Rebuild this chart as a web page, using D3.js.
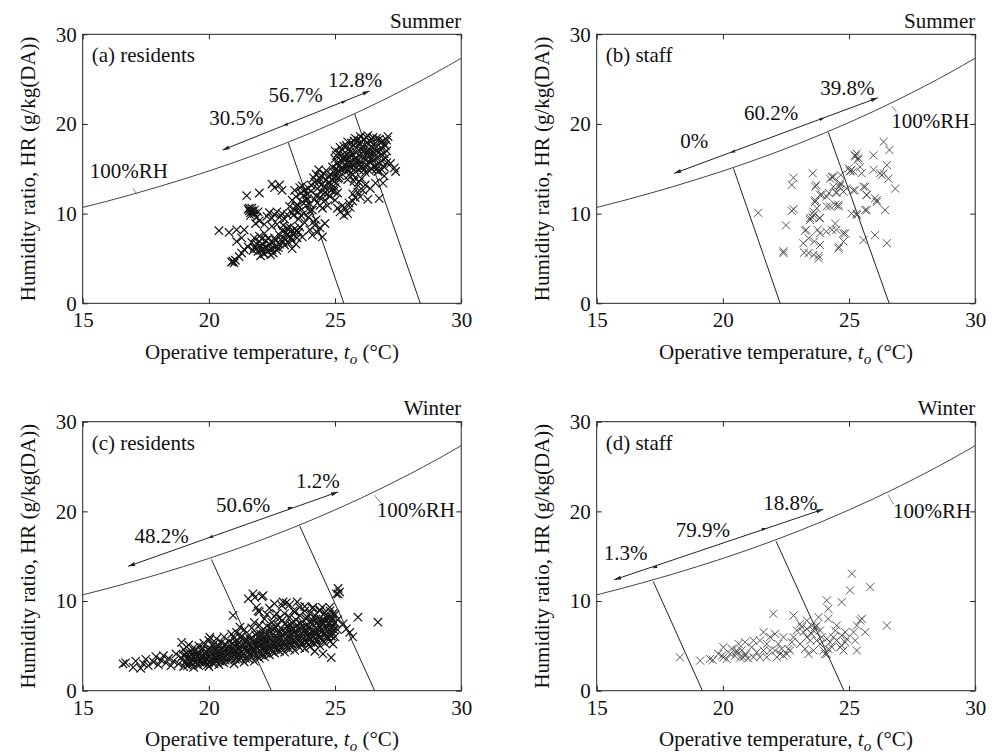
<!DOCTYPE html>
<html><head><meta charset="utf-8">
<script src="https://cdn.jsdelivr.net/npm/d3@7"></script>
<style>
body{margin:0;background:#fff;}
svg, svg text{font-family:"Times New Roman","Liberation Serif",Times,"DejaVu Serif",serif !important;}
svg text{fill:#111;}
</style></head>
<body><svg id="c" width="993" height="753"></svg>
<script>
// ---------- data ----------
const xTicks = [15, 20, 25, 30];
const yTicks = [0, 10, 20, 30];
const satTemp = [15,16,17,18,19,20,21,22,23,24,25,26,27,28,29,30];
const satHR   = [10.69,11.41,12.18,12.99,13.85,14.75,15.71,16.73,17.81,18.95,20.16,21.44,22.79,24.22,25.73,27.33];

const panelLabels = ["(a) residents", "(b) staff", "(c) residents", "(d) staff"];
const seasons = ["Summer", "Summer", "Winter", "Winter"];

const pctA = ["30.5%", "56.7%", "12.8%"];
const pctB = ["0%", "60.2%", "39.8%"];
const pctC = ["48.2%", "50.6%", "1.2%"];
const pctD = ["1.3%", "79.9%", "18.8%"];

// boundary lines [top point on 100%RH, bottom point at HR=0]
const boundA = [[[23.15,17.9],[25.35,0]], [[25.78,21.1],[28.38,0]]];
const boundB = [[[20.42,15.05],[22.27,0]], [[24.18,19.06],[26.59,0]]];
const boundC = [[[20.1,14.65],[22.48,0]], [[23.6,18.37],[26.57,0]]];
const boundD = [[[17.24,12.19],[19.19,0]], [[22.11,16.66],[24.8,0]]];

// arrow line: left end, division 1, division 2, right end
const arrowA = [[20.54,17.09],[22.94,19.8],[25.45,22.59],[26.37,23.67]];
const arrowB = [[18.07,14.49],[20.29,16.79],[24.03,20.69],[26.14,22.92]];
const arrowC = [[16.8,13.87],[19.97,17.03],[23.33,20.5],[25.12,22.17]];
const arrowD = [[15.69,12.37],[17.2,13.67],[21.74,18.15],[23.98,20.24]];

// (a) residents, summer
const residentsSummer = [
[20.4,8.1],[20.8,7.9],[21.1,8.2],[21.4,8.2],[21.1,6.9],[21.3,7.3],[21.5,12.0],[22.0,12.3],[20.9,4.6],[21.0,4.5],[20.95,4.7],[21.05,4.8],[21.2,5.2],[21.3,5.6],[21.4,6.0],[21.55,6.3],
[21.55,10.5],[21.6,10.3],[21.7,10.6],[21.75,10.2],[21.8,10.0],[21.65,9.8],[21.9,9.6],[21.95,10.2],[21.85,8.9],[22.0,9.2],
[21.7,6.8],[21.8,6.2],[21.9,6.6],[21.95,5.8],[22.0,6.9],[22.05,5.3],[22.1,6.0],[22.15,6.5],[22.2,5.5],[22.25,7.0],[22.3,6.2],[22.35,5.8],[22.4,6.6],[22.45,5.4],[22.5,6.0],[22.55,6.8],[22.6,7.3],[22.65,6.3],[22.7,5.9],[22.8,6.6],[22.0,7.5],[22.2,7.8],[21.8,7.3],
[22.3,9.7],[22.4,10.1],[22.5,9.5],[22.6,9.9],[22.7,10.2],[22.8,9.6],[22.9,10.0],[23.0,9.4],[23.1,9.9],[22.2,8.8],[22.5,8.6],[22.7,8.8],
[22.5,13.3],[22.6,12.9],[22.8,13.2],[22.9,12.6],
[22.8,7.6],[22.9,8.1],[23.0,7.2],[23.05,7.9],[23.1,8.4],[23.15,6.8],[23.2,7.5],[23.25,8.0],[23.3,7.0],[23.35,7.7],[23.4,8.3],[23.45,6.6],[23.5,7.3],[23.55,7.9],[23.6,8.5],[23.0,6.5],[23.3,6.1],[23.7,7.4],
[23.2,10.8],[23.3,11.5],[23.35,9.8],[23.4,10.4],[23.45,11.9],[23.5,11.0],[23.55,9.4],[23.6,10.7],[23.65,12.3],[23.7,11.3],[23.75,10.0],[23.8,12.6],[23.85,10.9],[23.9,11.7],[23.95,9.6],[24.0,11.1],[23.4,12.6],[23.6,12.9],[23.7,13.1],[23.9,12.2],[24.05,12.5],[24.1,10.4],[24.15,9.1],[23.8,9.0],
[24.0,8.2],[24.1,7.6],[24.2,8.7],[24.3,7.9],[24.4,8.4],[24.5,7.4],[24.6,8.9],[24.25,9.3],
[24.2,13.5],[24.25,14.4],[24.3,12.8],[24.35,14.9],[24.4,13.9],[24.45,12.4],[24.5,13.3],[24.55,14.5],[24.6,12.9],[24.65,13.8],[24.7,12.2],[24.75,14.2],[24.8,13.1],[24.85,12.6],[24.9,13.7],[24.95,14.6],[25.0,12.9],[25.05,13.4],[25.1,12.3],[25.15,14.0],[24.4,11.8],[24.6,11.5],[24.8,11.9],[24.3,11.2],[24.5,10.6],[24.7,10.9],[25.0,11.5],
[25.1,10.6],[25.2,10.2],[25.3,10.9],[25.35,9.8],[25.4,10.5],[25.5,10.0],[25.55,11.2],[25.6,10.7],[25.7,11.4],
[25.7,12.2],[25.8,11.8],[25.85,12.9],[25.9,12.4],[25.95,13.5],[26.0,11.9],[26.1,12.6],[26.2,13.2],[26.3,11.6],[26.4,12.8],[25.75,13.6],[26.05,13.9],
[24.9,15.2],[25.0,16.1],[25.05,14.6],[25.1,15.6],[25.15,16.8],[25.2,14.2],[25.25,15.9],[25.3,17.1],[25.35,15.0],[25.4,16.4],[25.45,17.6],[25.5,14.8],[25.55,15.7],[25.6,16.9],[25.65,17.9],[25.7,14.4],[25.75,15.3],[25.8,16.2],[25.85,17.3],[25.9,18.2],[25.95,14.9],[26.0,15.8],[26.05,16.7],[26.1,17.5],[26.15,18.3],[26.2,14.6],[26.25,15.4],[26.3,16.3],[26.35,17.2],[26.4,18.0],[26.45,15.0],[26.5,15.9],[26.55,16.8],[26.6,17.6],[26.65,18.4],[26.7,14.7],[26.75,15.6],[26.8,16.5],[26.85,17.3],[26.9,18.1],[26.95,15.2],[27.0,16.2],[27.05,17.0],[27.1,18.6],[26.0,18.6],[25.8,18.4],[26.3,18.7],[26.5,18.5],[25.5,18.0],[25.3,16.2],[25.6,15.2],[25.9,16.0],[26.2,16.0],[26.4,16.6],[26.1,15.1],[25.7,16.6],[25.4,15.5],[26.6,15.3],[26.8,17.9],[27.0,17.6],[25.2,17.4],[25.0,17.0],[24.95,14.0],[25.1,13.9],[25.5,13.8],[25.8,14.0],
[26.9,13.4],[27.35,15.1],[27.4,14.7],[26.75,11.7],[26.6,13.4],[27.2,15.6],[26.95,14.2],
[25.05,15.0],[25.05,16.5],[25.15,15.3],[25.15,14.7],[25.25,16.5],[25.25,14.9],[25.35,17.5],[25.35,16.0],[25.45,15.1],[25.45,16.2],[25.55,17.2],[25.55,16.3],[25.55,14.3],[25.65,15.6],[25.65,16.4],[25.75,17.6],[25.75,14.9],[25.75,18.1],[25.85,15.7],[25.85,16.8],[25.95,17.8],[25.95,15.4],[25.95,16.5],[26.05,17.1],[26.05,15.3],[26.05,18.0],[26.15,16.2],[26.15,14.9],[26.15,17.0],[26.25,17.9],[26.25,16.8],[26.25,18.5],[26.35,15.8],[26.35,14.8],[26.35,16.9],[26.45,17.5],[26.45,18.3],[26.45,16.2],[26.55,15.3],[26.55,17.2],[26.65,16.2],[26.65,17.0],[26.65,15.0],[26.75,18.3],[26.75,16.9],[26.85,15.9],[26.85,14.9],[26.95,16.7],[26.95,17.7],[27.05,15.7],[27.05,18.2],
[24.05,13.2],[24.15,14.0],[24.25,12.0],[24.35,13.5],[24.45,14.2],[24.55,13.0],[24.65,14.8],[24.75,13.5],[24.85,14.3],[24.95,12.5],[23.95,12.8],[23.85,11.4],[23.75,12.0],[23.55,10.2],[23.45,10.8],[23.65,9.8],[23.3,10.1],[24.0,10.3],[24.2,11.6],[24.4,10.9],[24.6,12.3],
[22.05,6.4],[22.15,5.6],[22.25,6.3],[22.35,7.2],[22.45,6.1],[22.55,5.6],[22.65,7.0],[22.75,6.2],[22.85,7.1],[22.95,6.8],[23.1,7.7],[23.25,7.3],[23.4,7.9],[23.5,8.1],[23.2,8.5],[22.95,8.7],[21.9,6.1],[21.75,5.9],[22.1,7.2],
[21.6,10.6],[21.7,10.3],[21.65,10.1],[21.8,10.4]
];

// (b) staff, summer
const staffSummer = [
[21.4,10.1],[22.5,8.7],[22.4,5.8],[22.4,5.6],[22.73,13.2],[22.8,14.0],[22.73,10.3],[22.8,10.5],[23.19,6.7],[23.22,5.65],[23.3,8.2],[23.4,7.25],[23.46,9.5],[23.56,14.5],[23.59,10.2],[23.6,9.85],[23.66,11.5],[23.66,13.0],[23.7,13.2],[23.62,6.9],[23.59,5.4],[23.8,5.0],[23.75,8.2],[23.83,9.5],[23.85,7.8],[23.92,12.1],[24.12,11.9],[24.25,10.8],[24.32,14.1],[24.38,13.0],[24.32,8.2],[24.45,8.9],[24.5,8.2],[24.45,11.0],[24.58,10.8],[24.5,12.3],[24.62,13.0],[24.65,13.4],[24.58,6.1],[24.78,6.9],[24.85,7.8],[24.67,14.3],[24.78,12.45],[24.91,12.8],[24.98,15.05],[25.04,14.7],[25.1,14.9],[25.1,10.0],[25.17,12.6],[25.24,16.5],[25.3,16.7],[25.37,16.2],[25.44,15.2],[25.5,14.5],[25.3,10.0],[25.57,13.0],[25.64,10.4],[25.7,12.1],[25.57,7.05],[25.7,10.4],[25.97,16.5],[25.97,14.9],[26.03,11.7],[26.1,11.3],[26.03,7.6],[26.23,14.5],[26.3,14.3],[26.37,18.0],[26.43,10.4],[26.5,6.7],[26.5,15.4],[26.56,13.9],[26.6,17.1],[26.83,12.8],
[24.25,13.9],[24.38,14.1],[24.5,12.4],[24.65,13.2],[23.85,12.1],[24.2,12.3],[23.65,11.3],[23.72,10.6],[23.85,9.5],[23.45,9.3],[23.55,9.6],[24.12,10.8],[24.58,11.0],[23.26,8.1],[24.1,8.0],[24.77,7.8],[23.85,6.5],[24.6,6.3],[23.4,5.6],[23.8,5.3],[25.05,14.8],[25.17,14.7],[25.24,12.6],[25.31,9.84],[25.64,13.0],[25.7,12.07],[26.1,11.5],[26.37,14.5],[25.25,16.4],[25.35,16.0]
];

// (c) residents, winter
const residentsWinter = [
[16.6,3.0],[16.7,3.1],[17.0,2.6],[17.1,3.3],[17.3,2.5],[17.4,3.0],[17.5,3.5],[17.6,2.8],[17.8,3.2],[17.9,3.8],[18.0,2.9],[18.1,3.4],[18.2,3.9],[18.3,3.1],[18.4,3.6],[18.5,2.8],[18.6,3.3],[18.7,4.1],[18.8,3.0],[18.9,3.7],
[19.0,2.7],[19.0,3.9],[19.0,4.6],[19.1,3.3],[19.1,4.2],[19.2,2.9],[19.2,3.7],[19.2,5.1],[19.3,3.5],[19.3,4.4],[19.4,2.6],[19.4,3.9],[19.4,4.8],[19.5,3.2],[19.5,4.1],[19.6,2.8],[19.6,3.6],[19.6,5.0],[19.7,3.4],[19.7,4.5],[19.8,3.0],[19.8,3.9],[19.8,5.3],[19.9,3.6],[19.9,4.3],
[20.0,2.7],[20.0,3.2],[20.0,4.0],[20.0,5.6],[20.1,3.5],[20.1,4.6],[20.2,3.0],[20.2,3.9],[20.2,5.2],[20.3,3.3],[20.3,4.3],[20.3,5.8],[20.4,2.9],[20.4,3.7],[20.4,4.9],[20.5,3.5],[20.5,4.1],[20.5,5.4],[20.6,3.1],[20.6,4.4],[20.6,6.0],[20.7,3.8],[20.7,4.8],[20.8,3.3],[20.8,4.2],[20.8,5.5],[20.9,3.6],[20.9,4.6],[20.9,6.3],
[21.0,3.0],[21.0,4.0],[21.0,5.0],[21.0,5.9],[21.1,3.7],[21.1,4.4],[21.1,6.5],[21.2,3.4],[21.2,4.8],[21.2,5.4],[21.3,3.9],[21.3,4.3],[21.3,6.1],[21.4,3.2],[21.4,4.6],[21.4,5.2],[21.4,6.8],[21.5,3.8],[21.5,4.9],[21.5,5.7],[21.6,3.5],[21.6,4.4],[21.6,6.2],[21.7,4.1],[21.7,5.0],[21.7,7.0],[21.8,3.3],[21.8,4.6],[21.8,5.6],[21.8,7.6],[21.9,3.9],[21.9,5.2],[21.9,6.4],
[22.0,3.6],[22.0,4.5],[22.0,5.9],[22.0,7.3],[22.1,4.2],[22.1,5.4],[22.1,6.7],[22.2,3.8],[22.2,4.9],[22.2,6.1],[22.2,8.0],[22.3,4.4],[22.3,5.6],[22.3,7.2],[22.4,4.0],[22.4,5.1],[22.4,6.5],[22.5,4.6],[22.5,5.8],[22.5,7.6],[22.6,4.2],[22.6,5.3],[22.6,6.9],[22.6,8.3],[22.7,4.8],[22.7,6.0],[22.7,7.4],[22.8,4.4],[22.8,5.5],[22.8,6.6],[22.8,8.1],[22.9,4.9],[22.9,6.2],[22.9,7.8],
[23.0,4.3],[23.0,5.4],[23.0,6.5],[23.0,8.6],[23.1,5.0],[23.1,6.0],[23.1,7.2],[23.2,4.6],[23.2,5.7],[23.2,6.8],[23.2,8.2],[23.3,5.2],[23.3,6.3],[23.3,7.6],[23.4,4.5],[23.4,5.5],[23.4,6.6],[23.4,8.8],[23.5,5.1],[23.5,6.1],[23.5,7.3],[23.6,4.8],[23.6,5.8],[23.6,7.0],[23.6,8.4],[23.7,5.3],[23.7,6.4],[23.7,7.7],[23.8,4.7],[23.8,5.6],[23.8,6.8],[23.8,8.9],[23.9,5.4],[23.9,6.2],[23.9,7.4],
[24.0,4.9],[24.0,5.9],[24.0,7.1],[24.0,8.6],[24.1,5.5],[24.1,6.6],[24.1,7.9],[24.2,4.4],[24.2,5.2],[24.2,6.3],[24.2,8.4],[24.3,5.7],[24.3,6.9],[24.3,7.6],[24.4,5.0],[24.4,6.0],[24.4,8.1],[24.4,9.0],[24.5,5.6],[24.5,6.7],[24.5,7.3],[24.6,5.3],[24.6,6.4],[24.6,7.8],[24.6,8.7],[24.7,5.9],[24.7,7.0],[24.7,8.3],[24.8,5.5],[24.8,6.2],[24.8,7.5],[24.8,8.9],[24.9,6.5],[24.9,7.2],[24.9,8.0],[25.0,6.0],[25.0,7.6],[25.0,8.5],[25.1,6.8],[25.1,7.9],
[18.92,5.4],[20.04,5.96],[20.96,8.4],[21.23,7.1],
[21.75,10.8],[21.82,10.4],[22.15,10.6],[21.89,9.3],[21.95,8.9],[21.56,10.25],[22.1,10.5],
[22.94,9.9],[23.07,9.8],[23.34,8.9],[23.6,9.3],[22.68,8.6],
[25.12,11.4],[25.18,11.0],[25.05,10.8],[25.12,10.8],
[25.91,8.2],[26.7,7.64],[25.45,6.9],[25.58,6.5],[25.7,6.0],[25.32,7.45],
[24.52,4.1],[24.85,3.7],[24.92,5.2],[24.72,5.96],[24.92,8.6],[24.39,8.9],[24.79,9.3],[24.13,9.3],
[19.05,3.1],[19.05,4.0],[19.15,3.6],[19.15,2.8],[19.25,4.2],[19.25,3.2],[19.35,3.0],[19.35,4.0],[19.45,3.6],[19.45,4.4],[19.55,2.9],[19.55,3.8],[19.65,4.1],[19.65,3.2],[19.75,3.7],[19.75,4.8],[19.85,3.3],[19.85,4.1],[19.95,2.9],[19.95,4.6],
[20.05,3.8],[20.05,4.4],[20.15,3.1],[20.15,4.1],[20.15,5.0],[20.25,3.6],[20.25,4.6],[20.35,3.9],[20.35,5.1],[20.45,3.3],[20.45,4.4],[20.55,3.8],[20.55,4.8],[20.65,3.4],[20.65,5.2],[20.75,4.1],[20.75,4.5],[20.85,3.7],[20.85,5.0],[20.95,4.3],[20.95,5.3],
[21.05,3.5],[21.05,4.5],[21.05,5.5],[21.15,4.0],[21.15,5.1],[21.25,3.7],[21.25,4.5],[21.25,5.9],[21.35,4.1],[21.35,5.0],[21.45,3.6],[21.45,5.5],[21.55,4.3],[21.55,5.2],[21.65,3.9],[21.65,4.8],[21.65,5.8],[21.75,4.5],[21.75,5.4],[21.85,4.1],[21.85,5.0],[21.85,6.2],[21.95,4.7],[21.95,5.5],
[22.05,4.0],[22.05,5.1],[22.05,6.3],[22.15,4.6],[22.15,5.8],[22.25,4.2],[22.25,5.3],[22.25,6.6],[22.35,4.8],[22.35,6.0],[22.45,4.5],[22.45,5.6],[22.45,7.0],[22.55,5.0],[22.55,6.3],[22.65,4.6],[22.65,5.7],[22.65,7.1],[22.75,5.2],[22.75,6.4],[22.85,4.8],[22.85,5.9],[22.85,7.0],[22.95,5.3],[22.95,6.7],
[23.05,4.8],[23.05,5.8],[23.05,7.5],[23.15,5.4],[23.15,6.6],[23.25,5.0],[23.25,6.1],[23.25,7.3],[23.35,5.6],[23.35,6.9],[23.45,5.2],[23.45,6.3],[23.45,7.9],[23.55,5.7],[23.55,6.8],[23.65,5.3],[23.65,6.2],[23.65,7.5],[23.75,5.9],[23.75,7.1],[23.85,5.4],[23.85,6.5],[23.85,8.0],[23.95,6.0],[23.95,7.0],
[24.05,5.4],[24.05,6.3],[24.05,7.6],[24.15,6.0],[24.15,7.2],[24.25,5.6],[24.25,6.6],[24.25,8.0],[24.35,6.2],[24.35,7.3],[24.45,5.8],[24.45,6.8],[24.45,7.8],[24.55,6.3],[24.55,7.5],[24.65,6.0],[24.65,7.1],[24.65,8.2],[24.75,6.5],[24.75,7.6],[24.85,6.1],[24.85,7.0],[24.85,8.3],[24.95,6.8],[24.95,7.5],
[22.4,9.2],[22.6,9.7],[22.9,9.5],[23.2,9.6],[23.5,9.9],[23.8,9.4],[24.1,9.2],[22.3,8.5],[22.0,8.8],[24.5,9.3],[23.9,8.2]
];

// (d) staff, winter
const staffWinter = [
[18.3,3.72],[19.1,3.35],[19.6,3.42],[19.96,3.9],[20.02,3.7],[20.48,3.9],[20.55,4.3],[20.68,3.7],[20.8,3.7],[20.9,4.1],[20.75,4.5],[21.0,3.6],
[20.62,5.22],[20.88,5.41],[21.14,4.85],[21.34,4.29],[21.47,5.6],[21.61,6.53],[21.74,5.22],[21.87,4.48],[22.07,6.34],[22.14,3.73],[22.27,4.1],[22.4,3.92],[22.53,4.1],[22.66,4.48],[22.73,5.41],[22.8,5.97],[22.93,6.71],[23.06,7.46],[23.13,7.09],[23.19,6.53],[23.33,5.97],[23.46,5.6],[23.52,6.34],[23.59,6.71],[23.66,7.09],[23.72,5.6],[23.85,5.22],[23.99,4.48],[24.05,4.1],[24.18,4.66],[24.25,5.41],[24.38,5.97],[24.51,5.6],[24.65,4.85],[24.71,5.04],[24.78,4.48],[24.85,5.41],[24.91,5.78],
[22.0,8.58],[22.8,8.39],[23.79,8.2],[24.12,10.07],[24.18,9.14],[24.18,8.02],[24.71,9.88],[24.51,7.27],[24.85,6.53],[25.18,6.53],[25.24,5.6],[25.31,4.48],[25.31,7.27],[25.44,7.83],[25.51,8.02],[25.64,6.53],[25.04,11.19],[25.11,13.05],[25.84,11.56],[26.5,7.27],
[20.02,4.85],[20.35,4.66],[20.29,4.1],[19.82,4.1],[21.47,3.73],[21.74,3.73],[21.21,3.73],[21.61,4.48],[23.06,5.22],[23.26,4.66],[23.39,4.1],[23.59,4.48],[23.92,5.97],[24.12,5.78],[24.32,4.85],[23.33,7.83],[23.52,7.27],[22.4,5.97],[22.2,5.22],[21.87,5.97],[21.21,5.6],[23.72,7.27],[23.85,6.71],[24.12,4.1],[22.6,4.66],[22.33,4.66],[22.07,4.48],[20.55,4.48],[20.88,3.92],[20.15,3.54],[19.49,3.54],[23.33,6.9],[24.45,6.71],[24.71,6.15]
];

// annotation anchor positions (data coords) for the percent labels, 100%RH label and its leader
const pctPosA = [[21.09,19.88],[23.44,22.47],[25.8,24.08]];
const pctPosB = [[18.87,17.28],[21.91,20.43],[24.93,23.22]];
const pctPosC = [[18.13,16.52],[21.36,19.94],[24.32,22.55]];
const pctPosD = [[16.15,14.54],[19.21,17.14],[22.68,20.13]];
const rhPos = [[16.83,13.97],[28.22,19.51],[28.2,19.38],[28.29,19.31]];
const rhLeader = [[[17.0,12.82],[17.14,12.15]], [[26.7,22.0],[26.87,21.36]], [[26.57,21.8],[26.83,20.88]], [[26.56,21.8],[26.76,20.8]]];

// ---------- drawing ----------
const FONT = "'Times New Roman','Liberation Serif',Times,'DejaVu Serif',serif";
const svg = d3.select("#c").attr("font-family", FONT);
svg.append("rect").attr("width",993).attr("height",753).attr("fill","#fff");
const FS = 21;
const lefts = [82.7, 596.7, 82.7, 596.7];
const tops = [34.3, 34.3, 421.7, 421.7];
const w = 378.5, h = 269;

const panels = [
  {pts: residentsSummer, bound: boundA, arrow: arrowA, pct: pctA, pctPos: pctPosA, mk: {c:"#151515", sw:1.2, s:48}},
  {pts: staffSummer,     bound: boundB, arrow: arrowB, pct: pctB, pctPos: pctPosB, mk: {c:"#444", sw:0.9, s:44}},
  {pts: residentsWinter, bound: boundC, arrow: arrowC, pct: pctC, pctPos: pctPosC, mk: {c:"#151515", sw:1.2, s:48}},
  {pts: staffWinter,     bound: boundD, arrow: arrowD, pct: pctD, pctPos: pctPosD, mk: {c:"#444", sw:0.9, s:44}}
];

function arrowHead(g, tip, from, L, Wd) {
  const dx = tip[0]-from[0], dy = tip[1]-from[1];
  const len = Math.hypot(dx,dy), ux = dx/len, uy = dy/len;
  const bx = tip[0]-ux*L, by = tip[1]-uy*L;
  const p = [[tip[0],tip[1]],[bx-uy*Wd,by+ux*Wd],[bx+uy*Wd,by-ux*Wd]];
  g.append("path").attr("d","M"+p.map(q=>q.join(",")).join("L")+"Z").attr("fill","#222");
}

panels.forEach((p,i) => {
  const g = svg.append("g").attr("transform",`translate(${lefts[i]},${tops[i]})`);
  const x = d3.scaleLinear().domain([15,30]).range([0,w]);
  const y = d3.scaleLinear().domain([0,30]).range([h,0]);

  const fmt = d3.format("d");
  const ax = [
    g.append("g").attr("transform",`translate(0,${h})`).call(d3.axisBottom(x).tickValues(xTicks).tickSize(-5).tickPadding(9).tickFormat(fmt)),
    g.append("g").call(d3.axisTop(x).tickValues(xTicks).tickSize(-5).tickFormat("")),
    g.append("g").call(d3.axisLeft(y).tickValues(yTicks).tickSize(-5).tickPadding(6).tickFormat(fmt)),
    g.append("g").attr("transform",`translate(${w},0)`).call(d3.axisRight(y).tickValues(yTicks).tickSize(-5).tickFormat(""))
  ];
  ax.forEach(a => {
    a.attr("font-family", FONT).attr("font-size", FS);
    a.select(".domain").remove();
    a.selectAll(".tick line").attr("stroke","#222");
    a.selectAll("text").attr("fill","#111");
  });
  g.append("rect").attr("width",w).attr("height",h).attr("fill","none").attr("stroke","#222").attr("stroke-width",1);

  const sat = satTemp.map((t,k)=>[t,satHR[k]]);
  g.append("path").datum(sat)
    .attr("d", d3.line().x(d=>x(d[0])).y(d=>y(d[1])).curve(d3.curveMonotoneX))
    .attr("fill","none").attr("stroke","#444").attr("stroke-width",1);

  p.bound.forEach(seg => {
    g.append("line").attr("x1",x(seg[0][0])).attr("y1",y(seg[0][1]))
      .attr("x2",x(seg[1][0])).attr("y2",y(seg[1][1])).attr("stroke","#222").attr("stroke-width",1);
  });

  const ap = p.arrow.map(d=>[x(d[0]),y(d[1])]);
  g.append("line").attr("x1",ap[0][0]).attr("y1",ap[0][1]).attr("x2",ap[3][0]).attr("y2",ap[3][1])
    .attr("stroke","#222").attr("stroke-width",1);
  arrowHead(g, ap[0], ap[3], 7, 2);
  arrowHead(g, ap[3], ap[0], 7, 2);
  arrowHead(g, ap[1], ap[3], 5, 1.6);
  arrowHead(g, ap[2], ap[0], 5, 1.6);

  p.pct.forEach((t,k) => {
    g.append("text").attr("x",x(p.pctPos[k][0])).attr("y",y(p.pctPos[k][1]))
      .attr("text-anchor","middle").attr("font-size",FS).text(t);
  });
  g.append("text").attr("x",x(rhPos[i][0])).attr("y",y(rhPos[i][1]))
    .attr("text-anchor","middle").attr("font-size",FS).text("100%RH");
  const ld = rhLeader[i];
  g.append("line").attr("x1",x(ld[0][0])).attr("y1",y(ld[0][1])).attr("x2",x(ld[1][0])).attr("y2",y(ld[1][1]))
    .attr("stroke","#666").attr("stroke-width",0.8);

  g.append("g").selectAll("path").data(p.pts).join("path")
    .attr("transform",d=>`translate(${x(d[0])},${y(d[1])})`)
    .attr("d", d3.symbol(d3.symbolTimes, p.mk.s)())
    .attr("fill","none").attr("stroke",p.mk.c).attr("stroke-width",p.mk.sw);

  g.append("text").attr("x",9).attr("y",28).attr("font-size",FS).text(panelLabels[i]);
  g.append("text").attr("x",w).attr("y",-6.5).attr("text-anchor","end").attr("font-size",FS).text(seasons[i]);

  const xt = g.append("text").attr("x",w/2).attr("y",h+55.5).attr("text-anchor","middle").attr("font-size",FS);
  xt.append("tspan").text("Operative temperature, ");
  xt.append("tspan").attr("font-style","italic").text("t");
  xt.append("tspan").attr("font-style","italic").attr("font-size",FS*0.72).attr("dy",5).text("o");
  xt.append("tspan").attr("dy",-5).text(" (\u00B0C)");

  g.append("text").attr("transform",`translate(${-55},${h/2}) rotate(-90)`)
    .attr("text-anchor","middle").attr("dominant-baseline","central").attr("font-size",FS)
    .text("Humidity ratio, HR (g/kg(DA))");
});
</script></body></html>
